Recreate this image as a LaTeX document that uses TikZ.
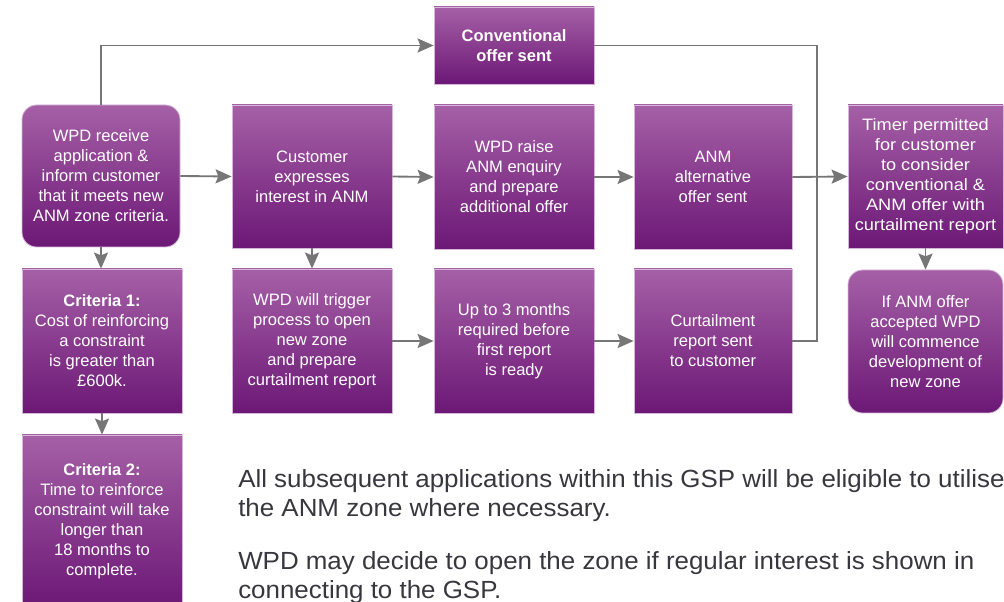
\documentclass[tikz,border=0pt]{standalone}
\usepackage{fontspec}
\setmainfont{Liberation Sans}
\newfontfamily\notefont[FakeStretch=1.045]{Liberation Sans}
\newfontfamily\widefont[FakeStretch=1.1]{Liberation Sans}
\usetikzlibrary{arrows.meta}

\definecolor{boxtop}{RGB}{165,96,166}
\definecolor{boxbot}{RGB}{108,24,118}
\definecolor{boxedge}{RGB}{214,182,216}
\definecolor{linkgray}{RGB}{118,118,118}
\definecolor{notegray}{RGB}{55,55,62}

\begin{document}
\begin{tikzpicture}[x=0.75pt,y=-0.75pt,
  stage/.style n args={2}{draw=boxedge, line width=0.6pt,
    top color=boxtop, bottom color=boxbot, text=white, align=center,
    inner sep=0pt, minimum width=#1*0.75pt, minimum height=#2*0.75pt,
    font=\fontsize{12.4}{15}\selectfont},
  soft/.style={rounded corners=11pt},
  link/.style={draw=linkgray, line width=1.4pt},
  flow/.style={link, -{Stealth[length=12pt,width=10.5pt,inset=2pt]}},
  note/.style={anchor=base west, inner sep=0pt, text=notegray,
    font=\notefont\fontsize{18.6}{22}\selectfont}]

\clip (0,0) rectangle (1004,602);

% top branch
\node[stage={160}{77}] (conv) at (514,45.5) {\textbf{Conventional}\\\textbf{offer sent}};

% first row
\node[stage={158}{142}, soft] (recv) at (101,176)
  {WPD receive\\application \&\\inform customer\\that it meets new\\ANM zone criteria.};
\node[stage={160}{143}] (cust) at (312,176.5) {Customer\\expresses\\interest in ANM};
\node[stage={160}{144}] (raise) at (514,177) {WPD raise\\ANM enquiry\\and prepare\\additional offer};
\node[stage={158}{144}] (alt) at (713,177) {ANM\\alternative\\offer sent};
\node[stage={155}{143}, font=\widefont\fontsize{12.4}{15}\selectfont] (timer) at (925.5,176.5)
  {Timer permitted\\for customer\\to consider\\conventional \&\\ANM offer with\\curtailment report};

% second row
\node[stage={160}{144}] (crit1) at (102,341)
  {\textbf{Criteria 1:}\\Cost of reinforcing\\a constraint\\is greater than\\£600k.};
\node[stage={160}{144}] (trig) at (312,341)
  {WPD will trigger\\process to open\\new zone\\and prepare\\curtailment report};
\node[stage={160}{144}] (months) at (514,341) {Up to 3 months\\required before\\first report\\is ready};
\node[stage={158}{144}] (curt) at (713,341) {Curtailment\\report sent\\to customer};
\node[stage={155}{143}, soft] (accept) at (925.5,341.5)
  {If ANM offer\\accepted WPD\\will commence\\development of\\new zone};

% third row
\node[stage={160}{172}] (crit2) at (102,521)
  {\textbf{Criteria 2:}\\Time to reinforce\\constraint will take\\longer than\\18 months to\\complete.};

% connectors
\coordinate (bus) at (817,177);
\draw[flow] (recv.north) |- (conv.west);
\draw[link] (conv.east) -| (bus) |- (curt.east);
\draw[flow] (recv.east) -- (cust.west);
\draw[flow] (cust.east) -- (raise.west);
\draw[flow] (raise.east) -- (alt.west);
\draw[flow] (alt.east) -- (timer.west);
\draw[flow] (recv.south) -- (recv.south |- crit1.north);
\draw[flow] (cust.south) -- (trig.north);
\draw[flow] (crit1.south) -- (crit2.north);
\draw[flow] (trig.east) -- (months.west);
\draw[flow] (months.east) -- (curt.west);
\draw[flow] (timer.south) -- (accept.north);

% notes
\node[note] (n1) at (238,488) {All subsequent applications within this GSP will be eligible to utilise};
\node[note] (n2) at (238,517) {the ANM zone where necessary.};
\node[note] (n3) at (238,569) {WPD may decide to open the zone if regular interest is shown in};
\node[note] (n4) at (238,598) {connecting to the GSP.};
\end{tikzpicture}
\end{document}
